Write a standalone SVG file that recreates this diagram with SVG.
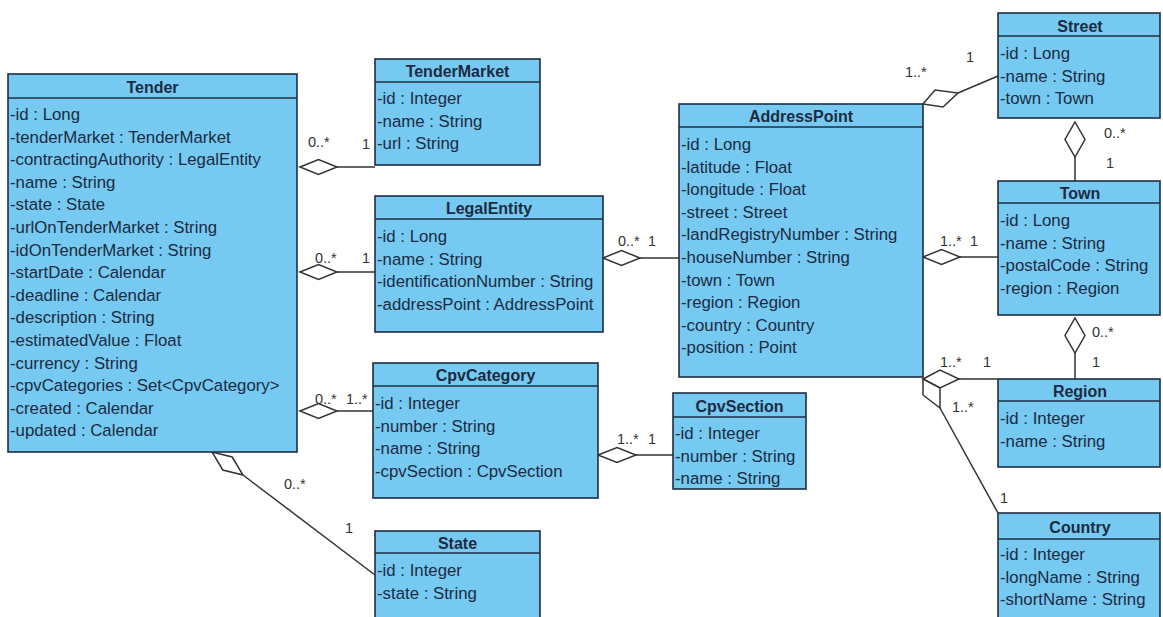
<svg xmlns="http://www.w3.org/2000/svg" width="1163" height="617" viewBox="0 0 1163 617">
  <style>
    .box { fill: #76c9f0; stroke: #1f2e44; stroke-width: 1.6; }
    .sep { stroke: #1f2e44; stroke-width: 1.4; }
    .hd { font-family: "Liberation Sans", Arial, sans-serif; font-weight: bold; font-size: 16px; fill: #1b2b42; text-anchor: middle; }
    .at { font-family: "Liberation Sans", Arial, sans-serif; font-size: 16.8px; fill: #1b2b42; }
    .m { font-family: "Liberation Sans", Arial, sans-serif; font-size: 14.5px; fill: #333333; }
    .ln { fill: none; stroke: #333333; stroke-width: 1.5; }
    .dia { fill: #ffffff; stroke: #333333; stroke-width: 1.5; stroke-linejoin: miter; }
  </style>
  <rect width="1163" height="617" fill="#ffffff"/>

  <!-- associations (aggregation diamonds sit on the owning class) -->
  <g id="connectors">
    <!-- Tender - TenderMarket -->
    <line class="ln" x1="337" y1="167" x2="375" y2="167"/>
    <polygon class="dia" points="300,167 318.5,159.5 337,167 318.5,174.5"/>
    <text class="m" x="308" y="147">0..*</text>
    <text class="m" x="362" y="149">1</text>
    <!-- Tender - LegalEntity -->
    <line class="ln" x1="337" y1="272" x2="375" y2="272"/>
    <polygon class="dia" points="300,272 318.5,264.5 337,272 318.5,279.5"/>
    <text class="m" x="315" y="263">0..*</text>
    <text class="m" x="362" y="263">1</text>
    <!-- Tender - CpvCategory -->
    <line class="ln" x1="337" y1="411" x2="373" y2="411"/>
    <polygon class="dia" points="300,411 318.5,403.5 337,411 318.5,418.5"/>
    <text class="m" x="315" y="404">0..*</text>
    <text class="m" x="346" y="404">1..*</text>
    <!-- Tender - State -->
    <line class="ln" x1="243" y1="475" x2="375" y2="575"/>
    <polygon class="dia" points="212,452 232.2,457 243,475 222.8,470"/>
    <text class="m" x="284" y="489">0..*</text>
    <text class="m" x="345" y="533">1</text>
    <!-- LegalEntity - AddressPoint -->
    <line class="ln" x1="640" y1="258" x2="679" y2="258"/>
    <polygon class="dia" points="603,258 621.5,250.5 640,258 621.5,265.5"/>
    <text class="m" x="618" y="246">0..*</text>
    <text class="m" x="648" y="246">1</text>
    <!-- CpvCategory - CpvSection -->
    <line class="ln" x1="636" y1="455" x2="673" y2="455"/>
    <polygon class="dia" points="598,455 617,447.5 636,455 617,462.5"/>
    <text class="m" x="617" y="444">1..*</text>
    <text class="m" x="648" y="444">1</text>
    <!-- AddressPoint - Street -->
    <line class="ln" x1="958" y1="93" x2="998" y2="76"/>
    <polygon class="dia" points="923,104 935,90 958,93 943,107"/>
    <text class="m" x="905" y="77">1..*</text>
    <text class="m" x="966" y="62">1</text>
    <!-- AddressPoint - Town -->
    <line class="ln" x1="960" y1="257" x2="998" y2="257"/>
    <polygon class="dia" points="923,257 941.5,249.5 960,257 941.5,264.5"/>
    <text class="m" x="940" y="246">1..*</text>
    <text class="m" x="970" y="246">1</text>
    <!-- Street - Town -->
    <line class="ln" x1="1075" y1="157" x2="1075" y2="181"/>
    <polygon class="dia" points="1075,122 1085,139.5 1075,157 1065,139.5"/>
    <text class="m" x="1104" y="138">0..*</text>
    <text class="m" x="1106" y="168">1</text>
    <!-- Town - Region -->
    <line class="ln" x1="1075" y1="353" x2="1075" y2="379"/>
    <polygon class="dia" points="1075,318 1085,335.5 1075,353 1065,335.5"/>
    <text class="m" x="1092" y="337">0..*</text>
    <text class="m" x="1092" y="367">1</text>
    <!-- AddressPoint - Region -->
    <line class="ln" x1="959" y1="379" x2="998" y2="379"/>
    <polygon class="dia" points="923,379 940,370 959,379 940,388"/>
    <text class="m" x="940" y="367">1..*</text>
    <text class="m" x="983" y="367">1</text>
    <!-- AddressPoint - Country -->
    <line class="ln" x1="940" y1="408" x2="998" y2="513"/>
    <polygon class="dia" points="923,379 940,388 940,408 923,395"/>
    <text class="m" x="952" y="412">1..*</text>
    <text class="m" x="1000" y="503">1</text>
  </g>

  <g id="Tender">
    <rect class="box" x="8" y="74" width="289" height="378"/>
    <line class="sep" x1="8" y1="98" x2="297" y2="98"/>
    <text class="hd" x="152.5" y="93">Tender</text>
    <text class="at" x="10" y="120">-id : Long</text>
    <text class="at" x="10" y="142.6">-tenderMarket : TenderMarket</text>
    <text class="at" x="10" y="165.2">-contractingAuthority : LegalEntity</text>
    <text class="at" x="10" y="187.8">-name : String</text>
    <text class="at" x="10" y="210.4">-state : State</text>
    <text class="at" x="10" y="233">-urlOnTenderMarket : String</text>
    <text class="at" x="10" y="255.6">-idOnTenderMarket : String</text>
    <text class="at" x="10" y="278.2">-startDate : Calendar</text>
    <text class="at" x="10" y="300.8">-deadline : Calendar</text>
    <text class="at" x="10" y="323.4">-description : String</text>
    <text class="at" x="10" y="346">-estimatedValue : Float</text>
    <text class="at" x="10" y="368.6">-currency : String</text>
    <text class="at" x="10" y="391.2">-cpvCategories : Set&lt;CpvCategory&gt;</text>
    <text class="at" x="10" y="413.8">-created : Calendar</text>
    <text class="at" x="10" y="436.4">-updated : Calendar</text>
  </g>

  <g id="TenderMarket">
    <rect class="box" x="375" y="59" width="165" height="106"/>
    <line class="sep" x1="375" y1="82" x2="540" y2="82"/>
    <text class="hd" x="457.5" y="77">TenderMarket</text>
    <text class="at" x="377" y="104">-id : Integer</text>
    <text class="at" x="377" y="126.6">-name : String</text>
    <text class="at" x="377" y="149.2">-url : String</text>
  </g>

  <g id="LegalEntity">
    <rect class="box" x="375" y="196" width="228" height="136"/>
    <line class="sep" x1="375" y1="219" x2="603" y2="219"/>
    <text class="hd" x="489" y="214">LegalEntity</text>
    <text class="at" x="377" y="242">-id : Long</text>
    <text class="at" x="377" y="264.6">-name : String</text>
    <text class="at" x="377" y="287.2">-identificationNumber : String</text>
    <text class="at" x="377" y="309.8">-addressPoint : AddressPoint</text>
  </g>

  <g id="CpvCategory">
    <rect class="box" x="373" y="363" width="225" height="135"/>
    <line class="sep" x1="373" y1="386" x2="598" y2="386"/>
    <text class="hd" x="485.5" y="381">CpvCategory</text>
    <text class="at" x="375" y="409">-id : Integer</text>
    <text class="at" x="375" y="431.6">-number : String</text>
    <text class="at" x="375" y="454.2">-name : String</text>
    <text class="at" x="375" y="476.8">-cpvSection : CpvSection</text>
  </g>

  <g id="CpvSection">
    <rect class="box" x="673" y="393" width="133" height="96"/>
    <line class="sep" x1="673" y1="417" x2="806" y2="417"/>
    <text class="hd" x="739.5" y="412">CpvSection</text>
    <text class="at" x="675" y="439">-id : Integer</text>
    <text class="at" x="675" y="461.6">-number : String</text>
    <text class="at" x="675" y="484.2">-name : String</text>
  </g>

  <g id="State">
    <rect class="box" x="375" y="531" width="165" height="92"/>
    <line class="sep" x1="375" y1="553" x2="540" y2="553"/>
    <text class="hd" x="457.5" y="549">State</text>
    <text class="at" x="377" y="576">-id : Integer</text>
    <text class="at" x="377" y="598.6">-state : String</text>
  </g>

  <g id="AddressPoint">
    <rect class="box" x="679" y="104" width="244" height="273"/>
    <line class="sep" x1="679" y1="127" x2="923" y2="127"/>
    <text class="hd" x="801" y="122">AddressPoint</text>
    <text class="at" x="681" y="150">-id : Long</text>
    <text class="at" x="681" y="172.6">-latitude : Float</text>
    <text class="at" x="681" y="195.2">-longitude : Float</text>
    <text class="at" x="681" y="217.8">-street : Street</text>
    <text class="at" x="681" y="240.4">-landRegistryNumber : String</text>
    <text class="at" x="681" y="263">-houseNumber : String</text>
    <text class="at" x="681" y="285.6">-town : Town</text>
    <text class="at" x="681" y="308.2">-region : Region</text>
    <text class="at" x="681" y="330.8">-country : Country</text>
    <text class="at" x="681" y="353.4">-position : Point</text>
  </g>

  <g id="Street">
    <rect class="box" x="998" y="13" width="162" height="105"/>
    <line class="sep" x1="998" y1="36" x2="1160" y2="36"/>
    <text class="hd" x="1080" y="32">Street</text>
    <text class="at" x="1000" y="59">-id : Long</text>
    <text class="at" x="1000" y="81.6">-name : String</text>
    <text class="at" x="1000" y="104.2">-town : Town</text>
  </g>

  <g id="Town">
    <rect class="box" x="998" y="181" width="162" height="134"/>
    <line class="sep" x1="998" y1="203" x2="1160" y2="203"/>
    <text class="hd" x="1080" y="199">Town</text>
    <text class="at" x="1000" y="226">-id : Long</text>
    <text class="at" x="1000" y="248.6">-name : String</text>
    <text class="at" x="1000" y="271.2">-postalCode : String</text>
    <text class="at" x="1000" y="293.8">-region : Region</text>
  </g>

  <g id="Region">
    <rect class="box" x="998" y="379" width="162" height="88"/>
    <line class="sep" x1="998" y1="401" x2="1160" y2="401"/>
    <text class="hd" x="1080" y="397">Region</text>
    <text class="at" x="1000" y="424">-id : Integer</text>
    <text class="at" x="1000" y="446.6">-name : String</text>
  </g>

  <g id="Country">
    <rect class="box" x="998" y="513" width="162" height="110"/>
    <line class="sep" x1="998" y1="539" x2="1160" y2="539"/>
    <text class="hd" x="1080" y="533">Country</text>
    <text class="at" x="1000" y="560">-id : Integer</text>
    <text class="at" x="1000" y="582.6">-longName : String</text>
    <text class="at" x="1000" y="605.2">-shortName : String</text>
  </g>
</svg>
